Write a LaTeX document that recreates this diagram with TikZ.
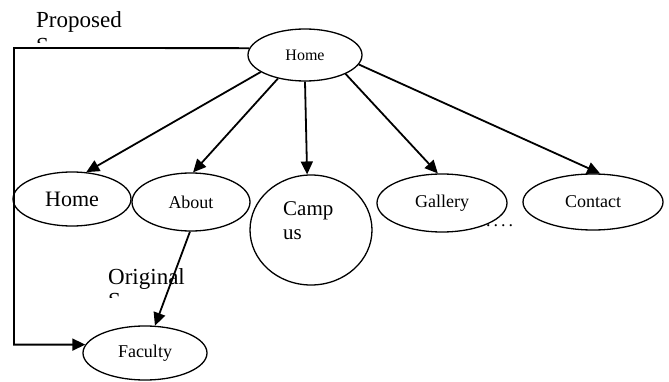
\documentclass[tikz,border=0pt]{standalone}
\usepackage{fontspec}
\setmainfont{Liberation Serif}
\usetikzlibrary{shapes.geometric,arrows.meta}
\begin{document}
\begin{tikzpicture}[x=1pt,y=-1pt,
  ell/.style={draw,ellipse,line width=1.3pt,inner sep=0pt},
  arr/.style={line width=1.8pt,-{Triangle[length=13pt,width=12pt]}},
  small/.style={font=\fontsize{18}{20}\selectfont},
  lbl/.style={font=\fontsize{23}{26}\selectfont,inner sep=0pt,anchor=base west}]
\useasboundingbox (0,0) rectangle (669,382);
\node[ell,minimum width=114pt,minimum height=52pt,font=\fontsize{16}{18}\selectfont] (top) at (305,55) {Home};
\node[ell,minimum width=118pt,minimum height=54pt,font=\fontsize{22}{24}\selectfont] (lhome) at (72,199) {Home};
\node[ell,minimum width=118pt,minimum height=58pt,small] (about) at (191,202) {About};
\node[ell,minimum width=122pt,minimum height=110pt] (campus) at (311,230) {};
\node[font=\fontsize{21}{24}\selectfont,inner sep=0pt,anchor=base west] (campA) at (283,215) {Camp};
\node[font=\fontsize{21}{24}\selectfont,inner sep=0pt,anchor=base west] (campB) at (283,240) {us};
\node[ell,minimum width=130pt,minimum height=58pt,small] (gallery) at (442,203) {Gallery};
\node[ell,minimum width=140pt,minimum height=56pt,small] (contact) at (593,202) {Contact};
\node[ell,minimum width=124pt,minimum height=54pt,small] (faculty) at (145,353) {Faculty};
\node[small,inner sep=0pt,anchor=base west] (dots) at (486,226) {.\,.\,.\,.};
\node[lbl] (proposed) at (36,28) {Proposed};
\begin{scope}
\clip (30,30) rectangle (47,42.5);
\node[lbl] (proposedB) at (36,54) {System};
\end{scope}
\node[lbl] (original) at (108,284) {Original};
\begin{scope}
\clip (100,287) rectangle (120,297.5);
\node[lbl] (originalB) at (108,308) {System};
\end{scope}
\draw[arr] (top.201) -- (lhome.62);
\draw[arr] (top.221) -- (about.86);
\draw[arr] (top.270) -- (campus.94);
\draw[arr] (top.335) -- (gallery.98);
\draw[arr] (top.350) -- (contact.76);
\draw[arr] (about.268) -- (faculty.70);
\coordinate (corner) at (14,48);
\draw[arr] (top.173) -- (corner) |- (faculty.172);
\end{tikzpicture}
\end{document}
